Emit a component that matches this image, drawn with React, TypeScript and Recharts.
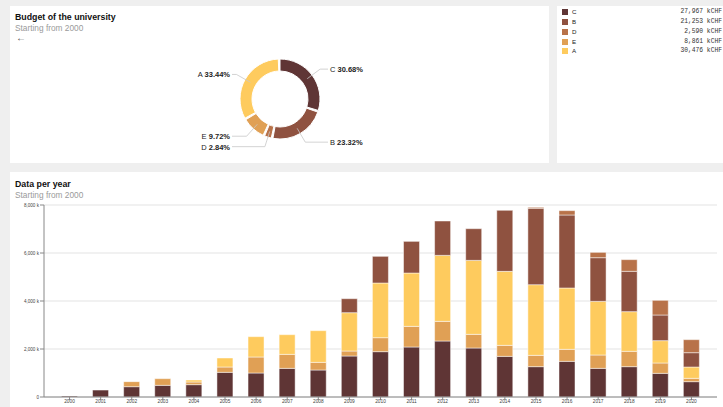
import React from 'react';
import {
  PieChart,
  Pie,
  Cell,
  BarChart,
  Bar,
  XAxis,
  YAxis,
  CartesianGrid,
} from 'recharts';

// budget split (kCHF)
const budgetNames = ['C', 'B', 'D', 'E', 'A'];
const budgetValues = [27967, 21253, 2590, 8861, 30476];

const colors: Record<string, string> = {
  C: '#5f3535',
  B: '#8f5240',
  D: '#b87249',
  E: '#e0a055',
  A: '#fecb5e',
};

// per year (k)
const years = [
  '2000', '2001', '2002', '2003', '2004', '2005', '2006', '2007', '2008', '2009', '2010',
  '2011', '2012', '2013', '2014', '2015', '2016', '2017', '2018', '2019', '2020',
];
const cValues = [40, 290, 430, 486, 514, 1028, 1000, 1194, 1125, 1708, 1889, 2083, 2333, 2042, 1694, 1264, 1486, 1194, 1264, 986, 639];
const eValues = [0, 0, 210, 278, 111, 222, 667, 583, 319, 208, 583, 861, 819, 569, 458, 472, 500, 556, 639, 431, 139];
const aValues = [0, 0, 0, 0, 83, 375, 847, 820, 1320, 1597, 2278, 2222, 2750, 3083, 3083, 2944, 2556, 2236, 1653, 931, 472];
const bValues = [0, 0, 0, 0, 0, 0, 0, 0, 0, 583, 1111, 1319, 1431, 1319, 2542, 3181, 3042, 1819, 1681, 1069, 597];
const dValues = [0, 0, 0, 0, 0, 0, 0, 0, 0, 0, 0, 0, 0, 0, 0, 42, 181, 222, 486, 611, 542];

const yTicks = [0, 2000, 4000, 6000, 8000];

const total = budgetValues.reduce((s, v) => s + v, 0);
const pieData = budgetNames.map((name, i) => ({ name, value: budgetValues[i] }));

const barData = years.map((year, i) => ({
  year,
  C: cValues[i],
  E: eValues[i],
  A: aValues[i],
  B: bValues[i],
  D: dValues[i],
}));

const stackOrder = ['C', 'E', 'A', 'B', 'D'];

const FONT = '"Liberation Sans", Arial, Helvetica, sans-serif';

const PieLabel = (props: any) => {
  const { cx, cy, midAngle, innerRadius, outerRadius, name, value } = props;
  const RAD = Math.PI / 180;
  const cos = Math.cos(-midAngle * RAD);
  const sin = Math.sin(-midAngle * RAD);
  const rMid = (innerRadius + outerRadius) / 2;
  const rElbow = outerRadius + 10;
  const x0 = cx + rMid * cos;
  const y0 = cy + rMid * sin;
  const x1 = cx + rElbow * cos;
  const y1 = cy + rElbow * sin;
  const side = cos >= 0 ? 1 : -1;
  const x2 = cx + side * (outerRadius + 8);
  const pct = ((value / total) * 100).toFixed(2);
  return (
    <g>
      <polyline
        points={`${x0},${y0} ${x1},${y1} ${x2},${y1}`}
        fill="none"
        stroke="#c8c8c8"
        strokeWidth={0.8}
      />
      <text
        x={x2 + side * 2}
        y={y1}
        textAnchor={side > 0 ? 'start' : 'end'}
        dominantBaseline="central"
        fontSize={7.5}
        fontFamily={FONT}
        fill="#222"
      >
        <tspan>{name} </tspan>
        <tspan fontWeight="bold">{pct}%</tspan>
      </text>
    </g>
  );
};

const YTick = ({ x, y, payload }: any) => (
  <text
    x={x}
    y={y}
    textAnchor="end"
    dominantBaseline="central"
    fontSize={4.6}
    fontFamily={FONT}
    fill="#444"
  >
    {payload.value === 0 ? '0' : `${payload.value.toLocaleString('en-US')} k`}
  </text>
);

const Title = ({ top, title }: { top: number; title: string }) => (
  <>
    <div style={{ position: 'absolute', left: 5, top, fontSize: 8.8, fontWeight: 'bold', color: '#111', lineHeight: '10px' }}>
      {title}
    </div>
    <div style={{ position: 'absolute', left: 5, top: top + 10.5, fontSize: 8.3, color: '#9a9a9a', lineHeight: '10px' }}>
      Starting from 2000
    </div>
  </>
);

const App: React.FC = () => {
  return (
    <div
      style={{
        position: 'absolute',
        left: 0,
        top: 0,
        width: 723,
        height: 407,
        overflow: 'hidden',
        background: '#efefef',
        fontFamily: FONT,
      }}
    >
      {/* donut panel */}
      <div style={{ position: 'absolute', left: 10, top: 6, width: 539, height: 157, background: '#fff' }}>
        <Title top={6} title="Budget of the university" />
        <div style={{ position: 'absolute', left: 6, top: 27, fontSize: 10, color: '#555', lineHeight: '10px' }}>←</div>
        <div style={{ position: 'absolute', left: 0, top: 0 }}>
          <PieChart width={539} height={157} margin={{ top: 0, right: 0, bottom: 0, left: 0 }}>
            <Pie
              data={pieData}
              dataKey="value"
              nameKey="name"
              cx={270}
              cy={93}
              innerRadius={28}
              outerRadius={40}
              startAngle={90}
              endAngle={-270}
              paddingAngle={2.5}
              stroke="#fff"
              strokeWidth={1}
              label={PieLabel}
              labelLine={false}
              isAnimationActive={false}
            >
              {pieData.map((d) => (
                <Cell key={d.name} fill={colors[d.name]} />
              ))}
            </Pie>
          </PieChart>
        </div>
      </div>

      {/* legend panel */}
      <div style={{ position: 'absolute', left: 557, top: 6, width: 166, height: 157, background: '#fff' }}>
        {pieData.map((d, i) => (
          <div key={d.name} style={{ position: 'absolute', left: 0, top: 6.3 + 9.75 * i - 5, width: 166, height: 10 }}>
            <div style={{ position: 'absolute', left: 5, top: 2, width: 6, height: 6, background: colors[d.name] }} />
            <div style={{ position: 'absolute', left: 15, top: 0, fontSize: 6.2, lineHeight: '10px', color: '#222' }}>{d.name}</div>
            <div
              style={{
                position: 'absolute',
                right: 1,
                top: 0,
                fontSize: 6.3,
                lineHeight: '10px',
                color: '#333',
                fontFamily: '"Liberation Mono", "DejaVu Sans Mono", monospace',
                whiteSpace: 'pre',
              }}
            >
              {d.value.toLocaleString('en-US')} kCHF
            </div>
          </div>
        ))}
      </div>

      {/* per year panel */}
      <div style={{ position: 'absolute', left: 10, top: 172, width: 730, height: 250, background: '#fff' }}>
        <Title top={7} title="Data per year" />
        <div style={{ position: 'absolute', left: 0, top: 0 }}>
          <BarChart
            width={713}
            height={240}
            data={barData}
            margin={{ top: 33, right: 6, bottom: 0, left: 0 }}
            barCategoryGap="24%"
          >
            <CartesianGrid vertical={false} stroke="#dcdcdc" strokeWidth={0.8} />
            <XAxis
              dataKey="year"
              height={15}
              interval={0}
              padding={{ left: 10, right: 10 }}
              tickSize={3}
              tickMargin={0}
              stroke="#888"
              tick={{ fontSize: 4.8, fill: '#444', fontFamily: FONT }}
            />
            <YAxis
              width={34}
              domain={[0, 8000]}
              ticks={yTicks}
              interval={0}
              tickSize={4}
              tickMargin={1}
              stroke="#888"
              tick={<YTick />}
            />
            {stackOrder.map((key) => (
              <Bar
                key={key}
                dataKey={key}
                stackId="s"
                fill={colors[key]}
                stroke="#fff"
                strokeOpacity={0.6}
                strokeWidth={0.8}
                isAnimationActive={false}
              />
            ))}
          </BarChart>
        </div>
      </div>
    </div>
  );
};

export default App;
